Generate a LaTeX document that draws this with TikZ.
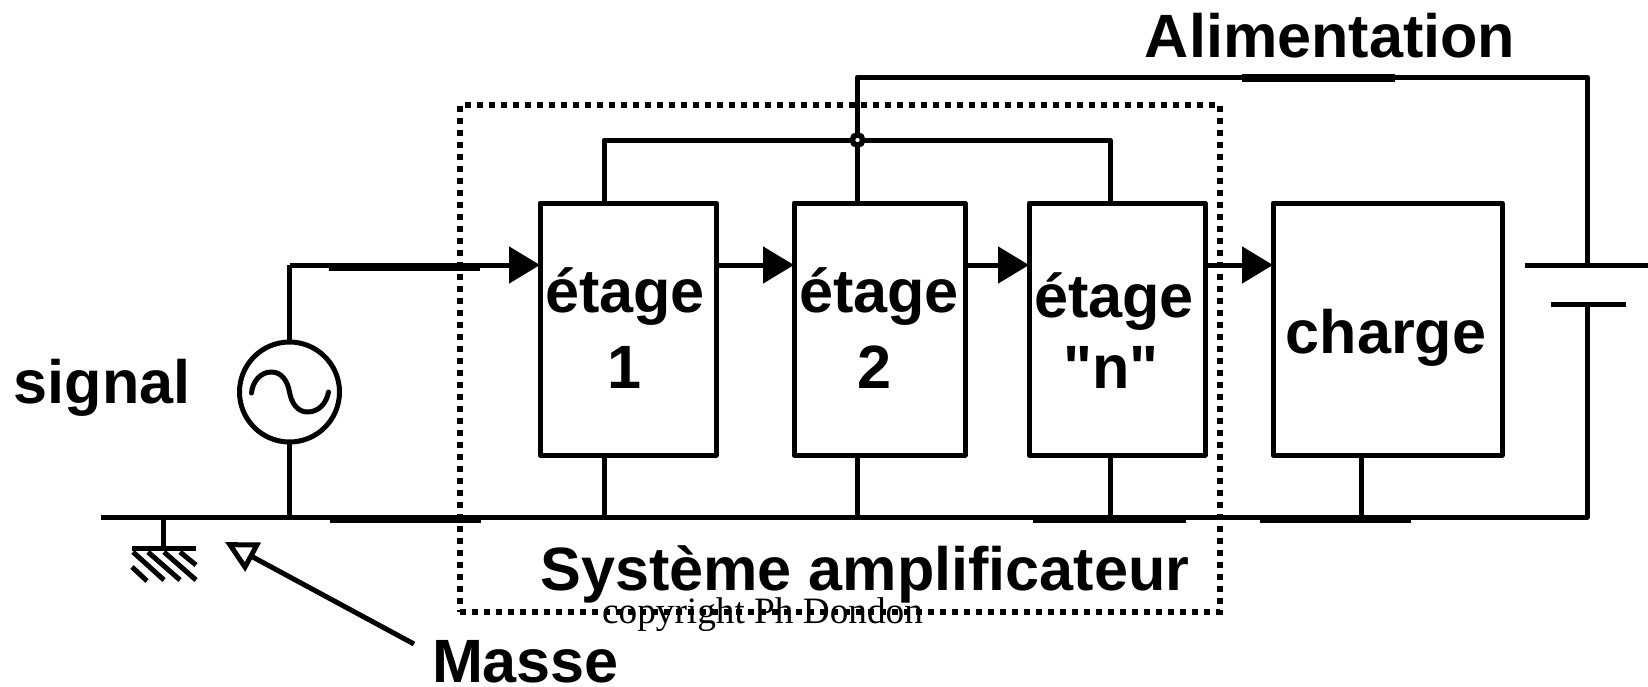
\documentclass[tikz,border=0pt]{standalone}
\usepackage{fontspec}
\setmainfont{Liberation Sans}
\newfontfamily\copyfont{Liberation Serif}
\newfontfamily\quotefont{Liberation Sans}
\usetikzlibrary{arrows.meta}
\tikzset{
	wire/.style={line width=0.05cm,line join=round},
	heavy/.style={line width=0.08cm},
	flow/.style={wire,-{Triangle[length=3.1mm,width=3.6mm]}},
	stage/.style={draw,wire,inner sep=0pt,outer sep=0pt,minimum height=2.52cm},
	label/.style={anchor=base,inner sep=0pt,font=\fontsize{17.4}{21.3}\selectfont\bfseries}
}
\begin{document}
\begin{tikzpicture}
		\useasboundingbox (0,0) rectangle (16.48,6.86);
		% amplifier frame
		\node[draw,line width=0.055cm,dash pattern=on 0.06cm off 0.06cm,minimum width=7.6cm,minimum height=5.07cm,outer sep=0pt] (sysbox) at (8.40,3.275) {};
		% blocks
		\node[stage,minimum width=1.76cm] (etage1) at (6.28,3.57) {};
		\node[stage,minimum width=1.71cm] (etage2) at (8.795,3.57) {};
		\node[stage,minimum width=1.76cm] (etagen) at (11.17,3.57) {};
		\node[stage,minimum width=2.29cm] (charge) at (13.875,3.57) {};
		% source
		\node[draw,wire,circle,minimum size=1cm,inner sep=0pt,outer sep=0pt] (source) at (2.895,2.94) {};
		\draw[wire,line cap=round,shift={(source.center)}] (-0.38,-0.01) to[out=85,in=180] (-0.18,0.20) to[out=0,in=100] (0,0) to[out=-80,in=180] (0.18,-0.20) to[out=0,in=-100] (0.39,0);
		% rails
		\coordinate (sigline) at (2.895,4.21);
		\coordinate (busline) at (8.575,5.46);
		\coordinate (topleft) at (8.575,6.09);
		\coordinate (topright) at (15.87,6.09);
		\coordinate (gndleft) at (1.01,1.69);
		\coordinate (gndright) at (15.87,1.69);
		\coordinate (gndstem) at (1.63,1.69);
		\coordinate (batlong) at (15.87,4.21);
		\coordinate (batshort) at (15.87,3.82);
		\coordinate (busleft) at (6.04,5.46);
		\coordinate (busright) at (11.10,5.46);
		\draw[wire] (gndleft) -- (gndright) -- (batshort);
		\draw[wire] (batlong) -- (topright) -- (topleft) -- (topleft |- etage2.north);
		\draw[wire] (busleft |- etage1.north) -- (busleft) -- (busright) -- (busright |- etagen.north);
		\node[draw,circle,fill=white,line width=0.055cm,minimum size=0.105cm,inner sep=0pt] (junction) at (busline) {};
		% signal path
		\draw[wire] (source.north) -- (sigline);
		\draw[flow] (sigline) -- (etage1.west |- sigline);
		\draw[flow] (etage1.east |- sigline) -- (etage2.west |- sigline);
		\draw[flow] (etage2.east |- sigline) -- (etagen.west |- sigline);
		\draw[flow] (etagen.east |- sigline) -- (charge.west |- sigline);
		% drops to ground
		\draw[wire] (source.south) -- (source.south |- gndleft);
		\foreach \x in {6.04,8.575,11.10,13.61}
			\draw[wire] (\x,3.57-1.26) -- (\x,1.69);
		% thicker bits of the rails
		\draw[heavy] (12.42,6.08) -- (13.95,6.08);
		\draw[heavy] (3.29,4.19) -- (4.80,4.19);
		\foreach \a/\b in {3.30/4.81,10.33/11.86,12.60/14.11}
			\draw[heavy] (\a,1.67) -- (\b,1.67);
		% battery
		\coordinate (bata) at (15.25,4.21);
		\coordinate (batb) at (16.48,4.21);
		\coordinate (batc) at (15.51,3.82);
		\coordinate (batd) at (16.26,3.82);
		\draw[wire] (bata) -- (batb);
		\draw[wire] (batc) -- (batd);
		% earth
		\coordinate (earth) at (1.63,1.38);
		\draw[wire] (gndstem) -- (earth);
		\draw[wire] (1.32,1.38) -- (1.96,1.38);
		\draw[wire] (1.33,1.34) -- (1.64,1.06);
		\draw[wire] (1.48,1.34) -- (1.80,1.06);
		\draw[wire] (1.64,1.34) -- (1.96,1.06);
		\draw[wire] (1.80,1.34) -- (1.96,1.21);
		\draw[wire] (1.32,1.19) -- (1.47,1.05);
		% masse pointer
		\coordinate (massetail) at (4.14,0.42);
		\coordinate (massetip) at (2.25,1.44);
		\draw[wire,-{Triangle[open,length=3.2mm,width=3.2mm]}] (massetail) -- (massetip);
		% texts
		\node[label] (alim) at (13.30,6.29) {Alimentation};
		\node[label] (signal) at (1.02,2.83) {signal};
		\node[label] (masse) at (5.255,0.04) {Masse};
		\node[label] (systeme) at (8.65,0.96) {Système amplificateur};
		\node[label] (etext1) at (6.25,3.74) {étage};
		\node[label] (num1) at (6.24,2.98) {1};
		\node[label] (etext2) at (8.79,3.74) {étage};
		\node[label] (num2) at (8.74,2.98) {2};
		\node[label] (etextn) at (11.14,3.69) {étage};
		\node[label] (numn) at (11.11,2.98) {\quotefont\bfseries "n"};
		\node[label] (chargetext) at (13.86,3.33) {charge};
		\node[anchor=base,inner sep=0pt,font=\fontsize{10.6}{13}\copyfont] (copy) at (7.625,0.63) {copyright Ph Dondon};
\end{tikzpicture}
\end{document}
